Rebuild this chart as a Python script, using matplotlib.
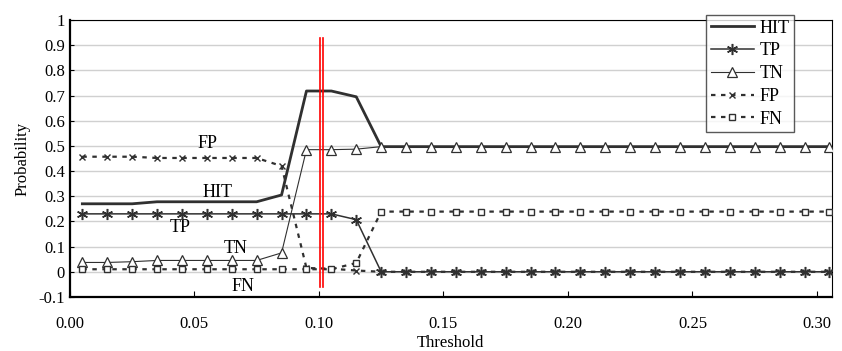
import matplotlib.pyplot as plt
import numpy as np

plt.rcParams['font.family'] = ['Liberation Serif', 'DejaVu Serif']

# threshold values (one point every 0.01)
threshold = [0.005 + 0.01 * i for i in range(31)]

hit = [0.27, 0.27, 0.27, 0.278, 0.278, 0.278, 0.278, 0.278, 0.305, 0.718, 0.718, 0.695, 0.497] + [0.497] * 18
tp = [0.23] * 11 + [0.207] + [0.0] * 19
tn = [0.037, 0.037, 0.04, 0.045, 0.045, 0.045, 0.045, 0.045, 0.075, 0.485, 0.485, 0.487, 0.497] + [0.497] * 18
fp = [0.457, 0.457, 0.457, 0.452, 0.452, 0.452, 0.452, 0.452, 0.42, 0.015, 0.012, 0.005] + [0.0] * 19
fn = [0.01] * 11 + [0.035] + [0.239] * 19

cut = [0.1003, 0.1016]

fig = plt.figure(figsize=(8.42, 3.51), dpi=100)
ax = fig.add_axes([0.083, 0.154, 0.905, 0.789])

col = '#303030'
ax.plot(threshold, hit, '-', color=col, linewidth=2.0, label='HIT', zorder=4)
ax.plot(threshold, tp, '-', color=col, linewidth=1.1, marker=(6, 2, 0), markersize=8,
        markeredgewidth=1.1, label='TP', zorder=4)
ax.plot(threshold, tn, '-', color=col, linewidth=0.8, marker='^', markersize=6.5,
        markerfacecolor='white', markeredgewidth=0.9, label='TN', zorder=4)
ax.plot(threshold, fp, linestyle=(0, (2, 2.5)), color=col, linewidth=1.6, marker='x',
        markersize=5, markeredgewidth=1.0, label='FP', zorder=4)
ax.plot(threshold, fn, linestyle=(0, (2, 2.5)), color=col, linewidth=1.6, marker='s',
        markersize=4, markerfacecolor='white', markeredgewidth=1.0, label='FN', zorder=4)

for c in cut:
    ax.plot([c, c], [-0.06, 0.93], color='red', linewidth=1.2, zorder=5)

ax.set_xlim(0, 0.306)
ax.set_ylim(-0.1, 1.0)
ax.set_xticks(np.arange(0, 0.31, 0.05))
ax.set_xticklabels(['%.2f' % v for v in np.arange(0, 0.31, 0.05)])
ax.set_yticks(np.arange(-0.1, 1.01, 0.1))
ax.set_yticklabels(['-0.1', '0', '0.1', '0.2', '0.3', '0.4', '0.5', '0.6', '0.7', '0.8', '0.9', '1'])
ax.tick_params(axis='x', direction='in', length=4, labelsize=12, pad=14)
ax.tick_params(axis='y', direction='in', length=3, labelsize=12)
ax.grid(True, axis='y', color='#d0d0d0', linewidth=1.0)
ax.set_axisbelow(True)

for s in ['left', 'bottom']:
    ax.spines[s].set_linewidth(1.6)
for s in ['top', 'right']:
    ax.spines[s].set_linewidth(0.8)

ax.set_xlabel('Threshold', fontsize=12, labelpad=2)
ax.set_ylabel('Probability', fontsize=12, labelpad=6)

ax.text(0.0554, 0.508, 'FP', fontsize=13, ha='center', va='center')
ax.text(0.0594, 0.313, 'HIT', fontsize=13, ha='center', va='center')
ax.text(0.0441, 0.174, 'TP', fontsize=13, ha='center', va='center')
ax.text(0.0666, 0.094, 'TN', fontsize=13, ha='center', va='center')
ax.text(0.0694, -0.06, 'FN', fontsize=13, ha='center', va='center')

leg = ax.legend(loc='upper right', bbox_to_anchor=(0.95, 1.018), fontsize=13,
                frameon=True, fancybox=False, edgecolor='#303030', handlelength=2.4,
                handletextpad=0.3, borderpad=0.25, labelspacing=0.32, borderaxespad=0)
leg.get_frame().set_linewidth(1.0)

fig.savefig('out.png', dpi=100)
